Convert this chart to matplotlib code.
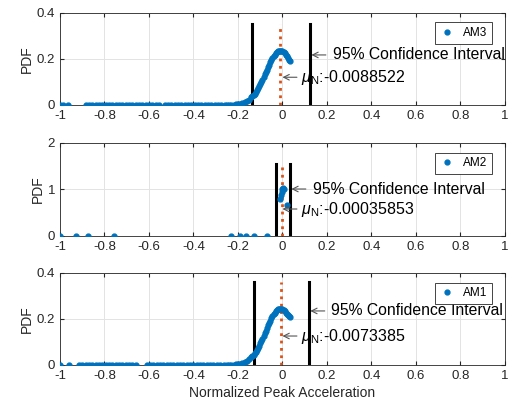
import numpy as np
from matplotlib import pyplot as plt

plt.rcParams['font.family'] = ['Liberation Sans', 'DejaVu Sans']
plt.rcParams['mathtext.fontset'] = 'custom'
plt.rcParams['mathtext.rm'] = 'Liberation Sans'
plt.rcParams['mathtext.it'] = 'Liberation Sans:italic'

blue = '#0072BD'
orange = '#D95319'

# AM3 - points near zero (left tail) + main bump
am3_tail_x = [-1.0, -0.985, -0.965, -0.885, -0.87, -0.855, -0.84, -0.825, -0.81, -0.795,
              -0.78, -0.765, -0.75, -0.735, -0.72, -0.705, -0.69, -0.675, -0.66, -0.645,
              -0.63, -0.615, -0.60, -0.585, -0.57, -0.555, -0.53, -0.515, -0.50, -0.485,
              -0.47, -0.455, -0.44, -0.425, -0.41, -0.395, -0.38, -0.365, -0.35, -0.335,
              -0.32, -0.305, -0.29, -0.275, -0.26]
am3_x = [-0.25, -0.24, -0.23, -0.22, -0.21, -0.20, -0.19, -0.18, -0.17, -0.16, -0.15,
         -0.14, -0.135, -0.13, -0.125, -0.12, -0.115, -0.11, -0.105, -0.10, -0.095, -0.09,
         -0.085, -0.08, -0.075, -0.07, -0.065, -0.06, -0.055, -0.05, -0.045, -0.04, -0.035,
         -0.03, -0.025, -0.02, -0.015, -0.01, -0.005, 0.0, 0.005, 0.01, 0.015, 0.02, 0.025,
         0.03, 0.035]
am3_y = [0.0003, 0.0006, 0.0009, 0.0013, 0.0021, 0.0033, 0.0051, 0.0077, 0.011, 0.016, 0.023,
         0.032, 0.037, 0.043, 0.049, 0.056, 0.064, 0.072, 0.081, 0.090, 0.100, 0.110,
         0.121, 0.132, 0.142, 0.153, 0.164, 0.175, 0.185, 0.195, 0.203, 0.211, 0.218,
         0.224, 0.229, 0.232, 0.234, 0.235, 0.234, 0.232, 0.228, 0.224, 0.218, 0.211, 0.204,
         0.197, 0.190]
am3_ci = [-0.135, 0.125]
am3_mean = -0.0088522

# AM2 - sparse points
am2_x = [-1.0, -0.93, -0.875, -0.755, -0.23, -0.19, -0.165, -0.13, -0.07,
         -0.012, -0.008, -0.004, 0.0, 0.004, 0.008, 0.02]
am2_y = [0, 0, 0, 0, 0, 0, 0, 0, 0,
         0.80, 0.88, 0.95, 1.0, 1.03, 1.01, 0.67]
am2_ci = [-0.03, 0.035]
am2_mean = -0.00035853

# AM1
am1_tail_x = [-1.0, -0.96, -0.915, -0.90, -0.885, -0.87, -0.855, -0.84, -0.825, -0.81,
              -0.795, -0.78, -0.765, -0.75, -0.735, -0.72, -0.705, -0.69, -0.675, -0.66,
              -0.61, -0.595, -0.58, -0.565, -0.55, -0.535, -0.52, -0.505, -0.49, -0.475,
              -0.46, -0.445, -0.43, -0.415, -0.40, -0.385, -0.37, -0.355, -0.34, -0.325,
              -0.31, -0.295, -0.28, -0.265]
am1_x = am3_x
am1_y = [0.0003, 0.0006, 0.0009, 0.0014, 0.0022, 0.0035, 0.0053, 0.008, 0.012, 0.017, 0.024,
         0.033, 0.039, 0.045, 0.051, 0.058, 0.066, 0.075, 0.084, 0.094, 0.104, 0.115,
         0.126, 0.138, 0.149, 0.160, 0.172, 0.183, 0.193, 0.203, 0.212, 0.220, 0.227,
         0.234, 0.239, 0.242, 0.244, 0.245, 0.244, 0.242, 0.238, 0.234, 0.228, 0.222, 0.216,
         0.212, 0.207]
am1_ci = [-0.13, 0.12]
am1_mean = -0.0073385

panels = [
    dict(name='AM3', x=am3_tail_x + am3_x, y=[0] * len(am3_tail_x) + am3_y, ci=am3_ci,
         mean=am3_mean, ymax=0.4, yticks=[0, 0.2, 0.4], lineh=0.35,
         ci_y=0.217, mu_y=0.12, box=[0.1167, 0.743, 0.8657, 0.2255]),
    dict(name='AM2', x=am2_x, y=am2_y, ci=am2_ci, mean=am2_mean, ymax=2, yticks=[0, 1, 2],
         lineh=1.55, ci_y=1.01, mu_y=0.58, box=[0.1167, 0.4216, 0.8657, 0.228]),
    dict(name='AM1', x=am1_tail_x + am1_x, y=[0] * len(am1_tail_x) + am1_y, ci=am1_ci,
         mean=am1_mean, ymax=0.4, yticks=[0, 0.2, 0.4], lineh=0.36,
         ci_y=0.235, mu_y=0.126, box=[0.1167, 0.1054, 0.8657, 0.2255]),
]

fig = plt.figure(figsize=(5.14, 4.08), dpi=100)
arrow = dict(arrowstyle='->', color='#555555', lw=0.8, shrinkA=0, shrinkB=0)

for p in panels:
    ax = fig.add_axes(p['box'])
    ax.plot(p['x'], p['y'], '.', color=blue, markersize=7, label=p['name'], zorder=3)
    for c in p['ci']:
        ax.plot([c, c], [0, p['lineh']], color='black', linewidth=2.2, zorder=2)
    ax.plot([p['mean'], p['mean']], [0, p['lineh']], ':', color=orange, linewidth=2, zorder=2)

    ax.set_xlim(-1, 1)
    ax.set_ylim(0, p['ymax'])
    ax.set_xticks(np.round(np.arange(-1, 1.01, 0.2), 1))
    ax.set_xticklabels(['-1', '-0.8', '-0.6', '-0.4', '-0.2', '0', '0.2', '0.4', '0.6', '0.8', '1'])
    ax.set_yticks(p['yticks'])
    ax.set_yticklabels([('%g' % v) for v in p['yticks']])
    ax.grid(True, color='#e3e3e3', linewidth=0.7)
    ax.set_axisbelow(True)
    ax.tick_params(direction='in', labelsize=9.5, colors='#262626', length=3, top=True, right=True)
    for s in ax.spines.values():
        s.set_color('#262626')
        s.set_linewidth(0.6)
    ax.set_ylabel('PDF', fontsize=10, color='#262626', labelpad=2)

    leg = ax.legend(loc='upper right', fontsize=8.5, handlelength=1.2, markerscale=1.0,
                    fancybox=False, framealpha=1, borderpad=0.4, bbox_to_anchor=(0.985, 0.96))
    leg.get_frame().set_edgecolor('#262626')
    leg.get_frame().set_linewidth(0.6)

    # confidence interval arrow + label
    cx = p['ci'][1]
    ax.annotate('', xy=(cx + 0.005, p['ci_y']), xytext=(cx + 0.07, p['ci_y']),
                annotation_clip=False, arrowprops=arrow)
    ax.text(cx + 0.1, p['ci_y'], '95% Confidence Interval', fontsize=11.3,
            va='center', ha='left', clip_on=False)

    # mean arrow + label
    ax.annotate('', xy=(0.0, p['mu_y']), xytext=(0.065, p['mu_y']),
                annotation_clip=False, arrowprops=arrow)
    ax.text(0.085, p['mu_y'], r'$\mu_{\rm N}$' + ':' + ('%.8g' % p['mean']), fontsize=11.5,
            va='center', ha='left', clip_on=False)

ax.set_xlabel('Normalized Peak Acceleration', fontsize=10, color='#262626', labelpad=3)

fig.savefig('out.png', dpi=100)
